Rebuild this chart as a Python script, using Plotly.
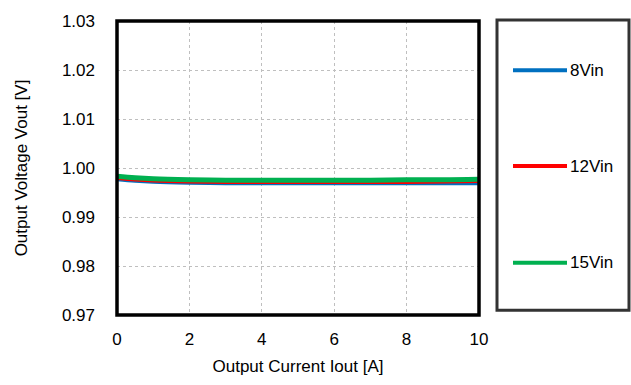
import plotly.graph_objects as go

# ---- data ----
current = [0, 0.5, 1, 2, 3, 4, 5, 6, 7, 8, 9, 10]
v_8vin = [0.9976, 0.9973, 0.9971, 0.9969, 0.9968, 0.9968, 0.9968, 0.9968, 0.9968, 0.9968, 0.9968, 0.9968]
v_12vin = [0.9978, 0.9975, 0.9973, 0.9971, 0.9970, 0.9970, 0.9970, 0.9970, 0.9970, 0.9970, 0.9971, 0.9972]
v_15vin = [0.9983, 0.9980, 0.9978, 0.9976, 0.9975, 0.9975, 0.9975, 0.9975, 0.9975, 0.9976, 0.9976, 0.9977]
series_names = ["8Vin", "12Vin", "15Vin"]
series_colors = ["#0070C0", "#FF0000", "#00B050"]
series_widths = [3, 2.5, 5]
x_ticks = [0, 2, 4, 6, 8, 10]
y_ticks = [0.97, 0.98, 0.99, 1.00, 1.01, 1.02, 1.03]

W, H = 631, 385
L, R, T, B = 117, 479, 14, 318

fig = go.Figure()
for name, ys, col, w in zip(series_names, [v_8vin, v_12vin, v_15vin], series_colors, series_widths):
    fig.add_trace(go.Scatter(x=current, y=ys, mode="lines", name=name,
                             line=dict(color=col, width=w, shape="spline"),
                             showlegend=False))

font = dict(family="Liberation Sans, Arial, sans-serif", size=17, color="#000")

fig.update_layout(
    width=W, height=H,
    margin=dict(l=L, r=W - R, t=T, b=H - B),
    paper_bgcolor="white", plot_bgcolor="white",
    font=font,
    xaxis=dict(range=[0, 10], tickvals=x_ticks, ticktext=[str(v) for v in x_ticks],
               showgrid=True, gridcolor="#BFBFBF", griddash="dot", gridwidth=1,
               zeroline=False, showline=False, ticks="", ticklen=0,
               ticklabelstandoff=12,
               title=dict(text="Output Current Iout [A]", standoff=12, font=font)),
    yaxis=dict(range=[0.97, 1.03], tickvals=y_ticks, ticktext=[f"{v:.2f}" for v in y_ticks],
               showgrid=True, gridcolor="#BFBFBF", griddash="dot", gridwidth=1,
               zeroline=False, showline=False, ticks="", ticklen=0,
               ticklabelstandoff=21,
               title=dict(text="Output Voltage Vout [V]", standoff=29, font=font)),
)

# plot border
fig.add_shape(type="rect", xref="paper", yref="paper", x0=0, x1=1, y0=0, y1=1,
              line=dict(color="black", width=3.5), layer="above")

def px_x(px):
    return (px - L) / (R - L)

def px_y(py):
    return (B - py) / (B - T)

# legend box
fig.add_shape(type="rect", xref="paper", yref="paper",
              x0=px_x(497), x1=px_x(629), y0=px_y(313), y1=px_y(13),
              line=dict(color="#333333", width=3))
legend_y = [65, 164, 264]
for name, col, py in zip(series_names, series_colors, legend_y):
    fig.add_shape(type="line", xref="paper", yref="paper",
                  x0=px_x(513), x1=px_x(567), y0=px_y(py), y1=px_y(py),
                  line=dict(color=col, width=4))
    fig.add_annotation(xref="paper", yref="paper", x=px_x(568), y=px_y(py),
                       text=name, showarrow=False, xanchor="left", yanchor="middle",
                       font=font)

fig.write_html("out.html")
